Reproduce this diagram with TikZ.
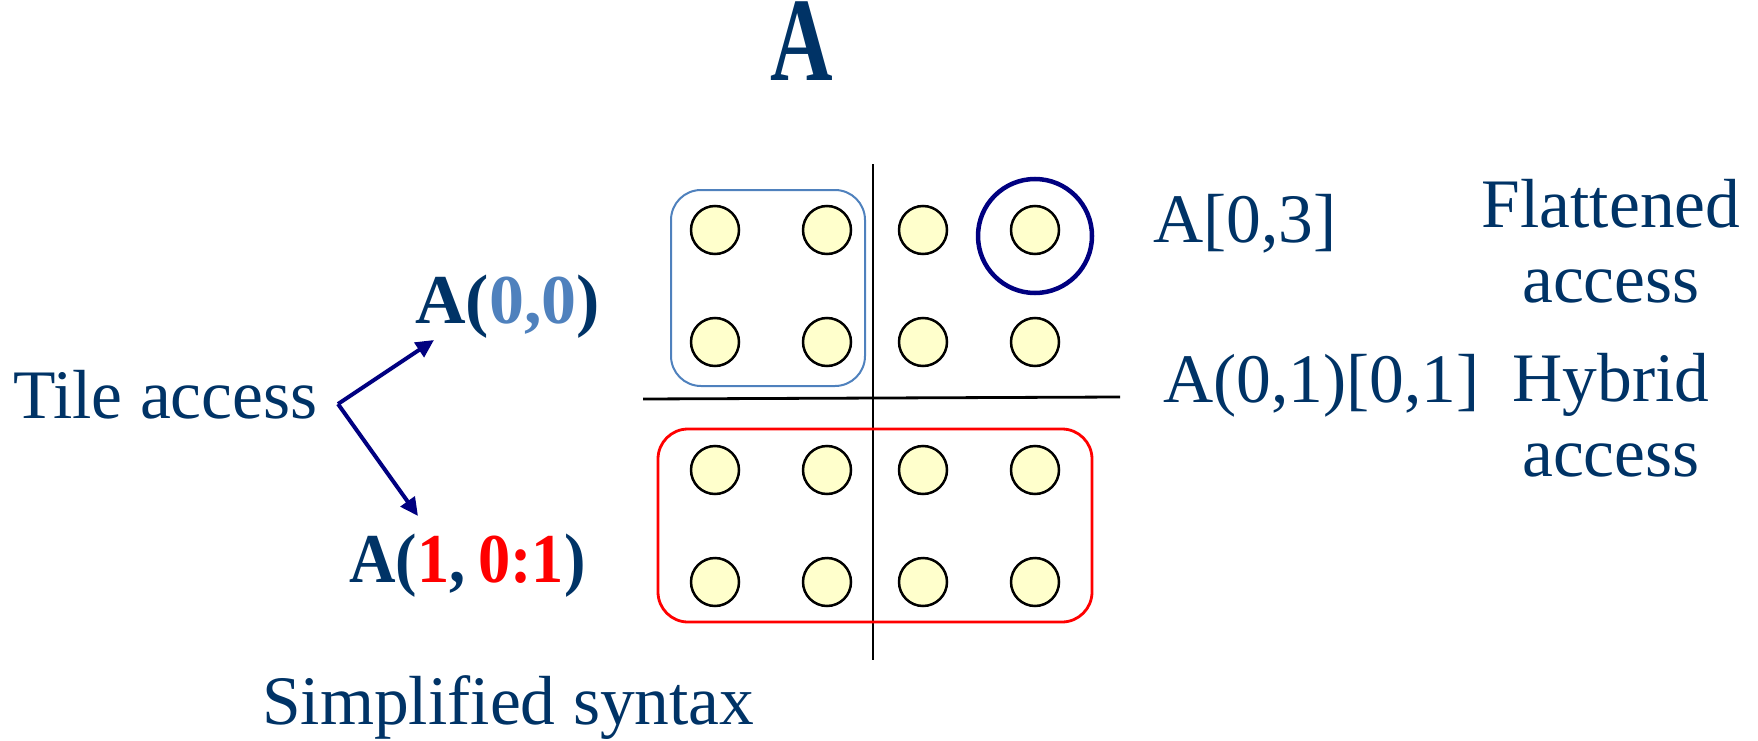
\documentclass[tikz,border=0pt]{standalone}
\usepackage{fontspec}
\setmainfont{Liberation Serif}
\usetikzlibrary{arrows.meta}
\definecolor{txt}{RGB}{0,51,102}
\definecolor{tblue}{RGB}{79,129,189}
\definecolor{tred}{RGB}{255,0,0}
\definecolor{navy}{RGB}{0,0,128}
\definecolor{dotfill}{RGB}{255,255,204}
\tikzset{
  lbl/.style={anchor=base west, inner sep=0pt, text=txt, font=\fontsize{69.5}{75}\selectfont},
  lblc/.style={anchor=base, inner sep=0pt, text=txt, align=center, font=\fontsize{69.5}{75}\selectfont},
  dot/.style={circle, draw=black, line width=2.5pt, fill=dotfill, minimum size=48pt, inner sep=0pt},
  grid/.style={line width=2.8pt, black},
  ptr/.style={navy, line width=4pt, -{Triangle[length=18pt, width=17pt]}},
}
\begin{document}
\begin{tikzpicture}[x=1pt, y=-1pt]
\useasboundingbox (0,0) rectangle (1758,741);
% title
\node[anchor=base, inner sep=0pt, text=txt, font=\fontsize{88}{95}\selectfont\bfseries] (title) at (802,81) {\smash{\scalebox{0.985}[1.356]{A}}};
% dots
\foreach \r/\y in {1/230,2/342,3/470,4/582}{
  \foreach \c/\x in {1/715,2/827,3/923,4/1035}{
    \node[dot] (c\r\c) at (\x,\y) {};
  }
}
% dividing lines
\draw[grid] (873,164) -- (873,660);
\draw[grid] (643,399) -- (1120,397);
% tile boxes
\draw[tblue, line width=2pt, rounded corners=30pt] (671,190) rectangle (865,386);
\draw[tred, line width=2.8pt, rounded corners=30pt] (658,429) rectangle (1092,622);
% flattened element ring
\draw[navy, line width=4.5pt] (c14.center) ++(0,6) circle[radius=57];
% labels
\node[lbl] (tile) at (13,418) {Tile access};
\node[lbl, font=\fontsize{70}{75}\selectfont\bfseries] (a00) at (415,323) {A(\textcolor{tblue}{0,0})};
\node[lbl, font=\fontsize{70}{75}\selectfont\bfseries] (a101) at (349,582) {\scalebox{0.92}[1]{A(\textcolor{tred}{1},\hspace{0.2em}\textcolor{tred}{0:1})}};
\node[lbl] (a03) at (1153,242) {A[0,3]};
\node[lbl] (a0101) at (1163,402) {A(0,1)[0,1]};
\node[lblc] (flat) at (1611,302) {Flattened\\access};
\node[lblc] (hyb) at (1611,476) {Hybrid\\access};
\node[lbl] (simp) at (262,724) {Simplified syntax};
% arrows
\coordinate (src) at (338,404);
\coordinate (t1) at (434,340);
\coordinate (t2) at (418,516);
\draw[ptr] (src) -- (t1);
\draw[ptr] (src) -- (t2);
\end{tikzpicture}
\end{document}
